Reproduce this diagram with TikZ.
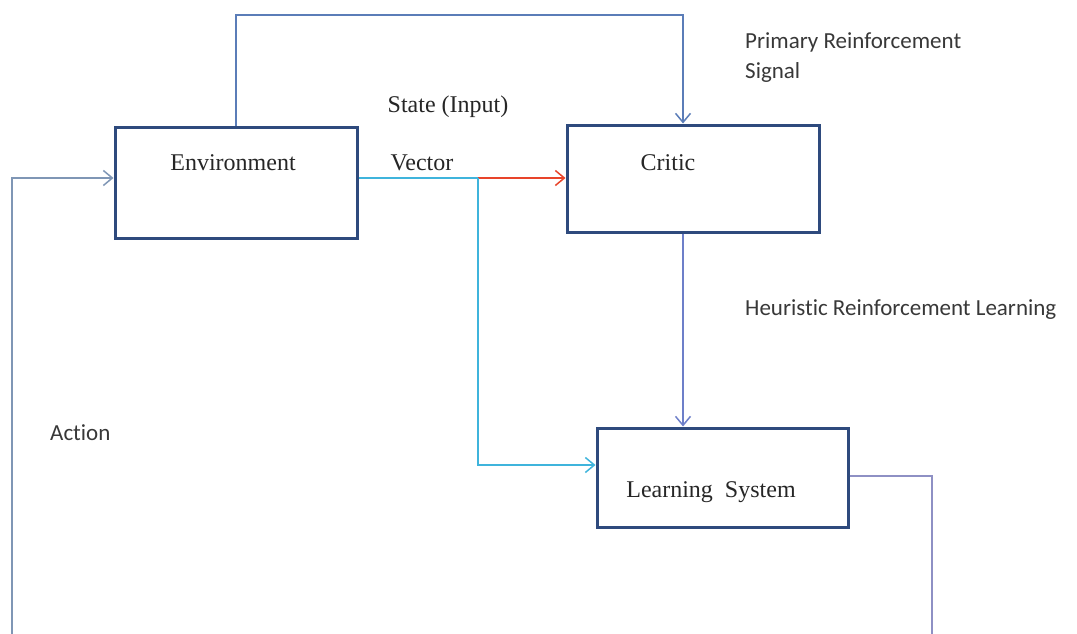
\documentclass[tikz,border=0pt]{standalone}
\usepackage{fontspec}
\setmainfont{Liberation Serif}
\newfontfamily\calib[Ligatures=CommonOff]{Carlito}
\usetikzlibrary{arrows.meta}
\definecolor{boxc}{HTML}{2E4A7D}
\definecolor{topc}{HTML}{5B7DB8}
\definecolor{cyanc}{HTML}{3FB4DC}
\definecolor{redc}{HTML}{E8442A}
\definecolor{critc}{HTML}{6D7FC9}
\definecolor{lsc}{HTML}{8E90C4}
\definecolor{leftc}{HTML}{7F96B5}
\tikzset{
  box/.style={draw=boxc, line width=3pt, rectangle, inner sep=0pt},
  serif/.style={text=black!85, font=\fontsize{24}{28}\selectfont, inner sep=0pt},
  sans/.style={text=black!78, font=\calib\fontsize{23}{27}\selectfont, inner sep=0pt, anchor=west},
  conn/.style={line width=1.5pt},
  tip/.style={-{Straight Barb[length=9pt,width=15pt,line width=1.5pt]}}
}
\begin{document}
\begin{tikzpicture}[x=1pt,y=-1pt]
\useasboundingbox (0,0) rectangle (1077,634);
\node[box, minimum width=242pt, minimum height=111pt] (env) at (236,182.5) {};
\node[box, minimum width=252pt, minimum height=107pt] (critic) at (693,178.5) {};
\node[box, minimum width=251pt, minimum height=99pt] (ls) at (722.5,477.5) {};
\node[serif] (envt) at (233,163) {Environment};
\node[serif] (critt) at (668,163) {Critic};
\node[serif] (lst) at (711,492) {Learning\ \ System};
\node[serif] (state) at (448,107) {State (Input)};
\node[serif] (vec) at (422,163) {Vector};
\node[sans] (prim) at (745,42) {Primary Reinforcement};
\node[sans] (sig) at (745,72) {Signal};
\node[sans] (heur) at (745,310) {Heuristic Reinforcement Learning};
\node[sans] (act) at (50,433) {Action};
\coordinate (t1) at (236,15);
\coordinate (t2) at (683,15);
\coordinate (j) at (478,178);
\coordinate (k) at (478,465);
\coordinate (r1) at (932,476);
\coordinate (r2) at (932,640);
\coordinate (l1) at (12,640);
\coordinate (l2) at (12,178);
\draw[conn, topc, tip] (env.north) -- (t1) -- (t2) -- (critic.north -| t2);
\draw[conn, cyanc] (env.east |- j) -- (j);
\draw[conn, redc, tip] (j) -- (critic.west |- j);
\draw[conn, cyanc, tip] (j) -- (k) -- (ls.west |- k);
\draw[conn, critc, tip] (critic.south -| t2) -- (ls.north -| t2);
\draw[conn, lsc] (ls.east |- r1) -- (r1) -- (r2);
\draw[conn, leftc, tip] (l1) -- (l2) -- (env.west |- l2);
\end{tikzpicture}
\end{document}
